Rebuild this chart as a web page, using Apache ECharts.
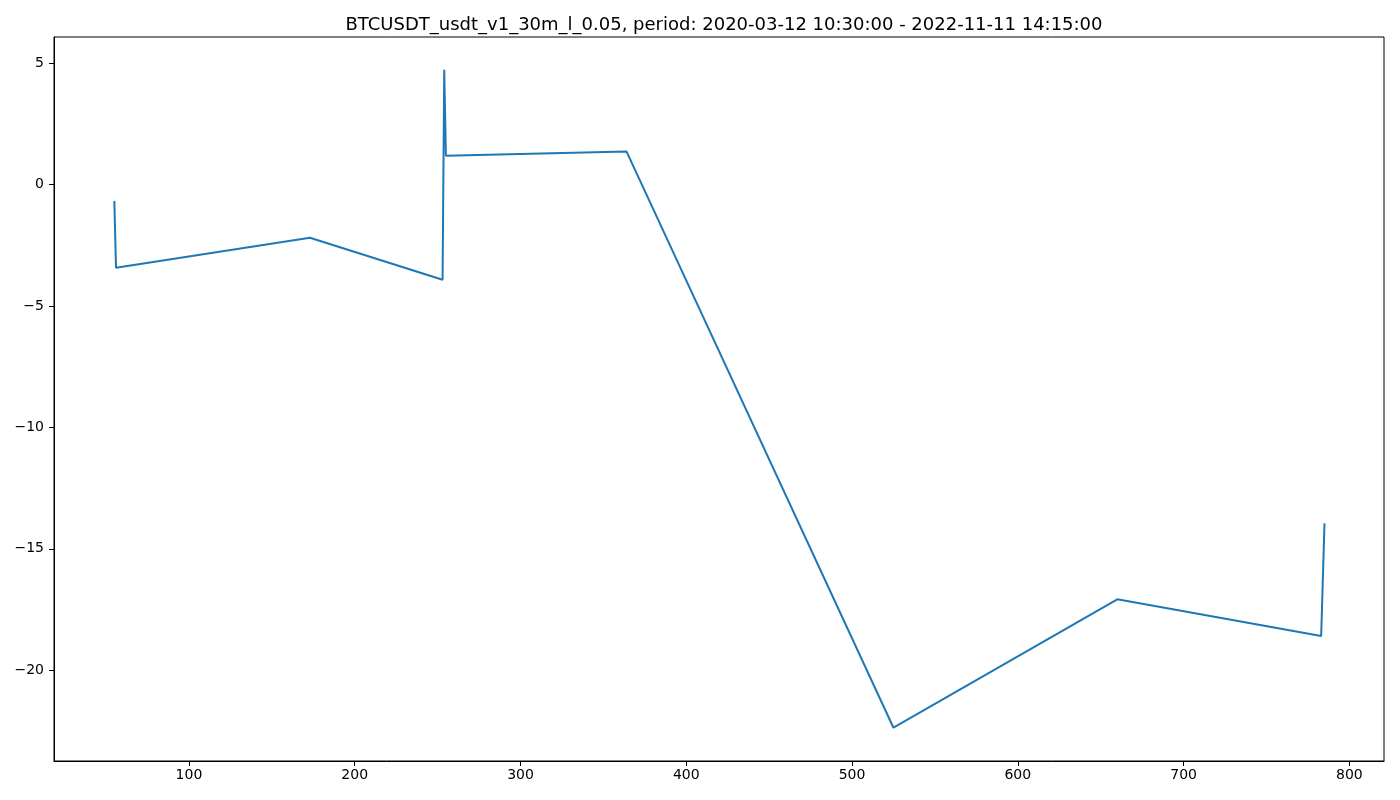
<!DOCTYPE html>
<html>
<head>
<meta charset="utf-8">
<title>BTCUSDT_usdt_v1_30m_l_0.05</title>
<script src="https://cdn.jsdelivr.net/npm/echarts@6/dist/echarts.min.js"></script>
<style>
  html, body { margin: 0; padding: 0; background: #fff; }
  #chart { width: 1400px; height: 800px; }
</style>
</head>
<body>
<div id="chart"></div>
<script>
'use strict';

// values
var titleText = 'BTCUSDT_usdt_v1_30m_l_0.05, period: 2020-03-12 10:30:00 - 2022-11-11 14:15:00';
var xVals = [55, 56, 173, 253, 254, 255, 364, 525, 660, 783, 785];
var yVals = [-0.67, -3.42, -2.19, -3.92, 4.73, 1.19, 1.36, -22.37, -17.08, -18.59, -13.95];
var xTicks = [100, 200, 300, 400, 500, 600, 700, 800];
var yTicks = [-20, -15, -10, -5, 0, 5];

var points = xVals.map(function (x, i) { return [x, yVals[i]]; });

var chart = echarts.init(document.getElementById('chart'));

var font = 'DejaVu Sans';

function minusFmt(v) {
  return String(v).replace('-', '\u2212');
}

var option = {
  animation: false,
  title: {
    text: titleText,
    left: 719,
    top: 11,
    textAlign: 'center',
    textStyle: { fontFamily: font, fontSize: 18, fontWeight: 'normal', color: '#000' }
  },
  grid: {
    left: 54, right: 16, top: 37, bottom: 39,
    show: true, borderColor: '#000', borderWidth: 1, backgroundColor: '#fff'
  },
  xAxis: {
    type: 'value',
    min: 18.6, max: 820.9,
    axisLine: { show: true, onZero: false, lineStyle: { color: '#000', width: 1 } },
    axisTick: { show: true, customValues: xTicks, length: 5, lineStyle: { color: '#000' } },
    axisLabel: { customValues: xTicks, color: '#000', fontFamily: font, fontSize: 14, margin: 7 },
    splitLine: { show: false }
  },
  yAxis: {
    type: 'value',
    min: -23.74, max: 6.08,
    axisLine: { show: true, onZero: false, lineStyle: { color: '#000', width: 1 } },
    axisTick: { show: true, customValues: yTicks, length: 5, lineStyle: { color: '#000' } },
    axisLabel: { customValues: yTicks, color: '#000', fontFamily: font, fontSize: 14, margin: 10,
      formatter: minusFmt },
    splitLine: { show: false }
  },
  series: [{
    type: 'line',
    data: points,
    showSymbol: false,
    symbol: 'none',
    lineStyle: { color: '#1f77b4', width: 2 },
    itemStyle: { color: '#1f77b4' }
  }]
};

chart.setOption(option);
</script>
</body>
</html>
